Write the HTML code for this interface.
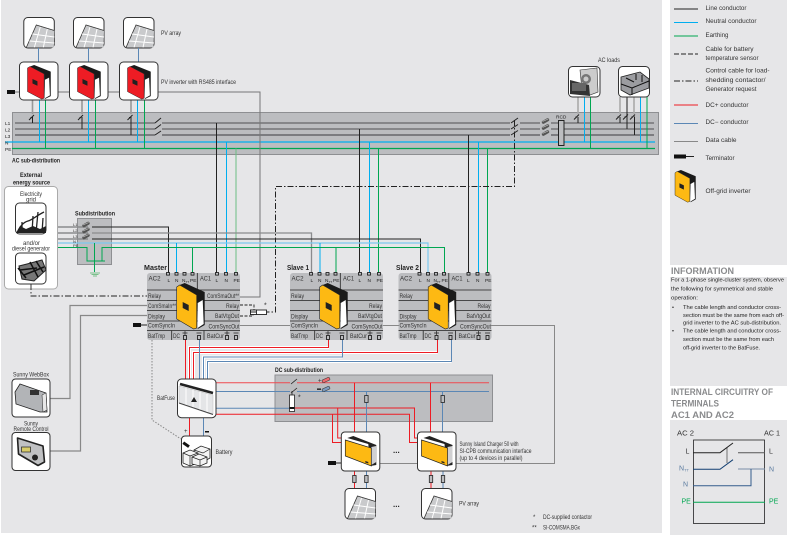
<!DOCTYPE html>
<html><head><meta charset="utf-8"><style>
html,body{margin:0;padding:0;background:#fff}
svg{display:block;font-family:"Liberation Sans",sans-serif;font-size:6px}
text{fill:#333}
.b{font-weight:bold;fill:#222}
.s{font-size:5.6px;fill:#222}
.t{font-size:4.8px;fill:#222}
.h{font-weight:bold;font-size:9px;fill:#8a8b8d}
.w{stroke:#fff;stroke-width:3;fill:none}
.bx{fill:#fff;stroke:#333;stroke-width:1}
</style></head><body>
<svg width="792" height="535" viewBox="0 0 792 535" xmlns="http://www.w3.org/2000/svg">
<defs>
<g id="panel">
<rect class="bx" x=".5" y=".5" width="30.5" height="30.5" rx="4"/>
<polygon points="13,8 31,13.5 30.5,30.5 3,30.5" fill="#c9cacc"/>
<path d="M3,30.5 L13,8 L31,13.5" stroke="#333" stroke-width=".8" fill="none"/>
<path d="M9,17 L31,20 M6,24 L31,26 M17,10 L11,30.5 M24,12 L20,30.5" stroke="#fff" stroke-width="1" fill="none"/>
</g>
<g id="inv">
<polygon points="3,2 8,0 28,9 28,42 21,46 20,12" fill="#1a1a1a"/>
<polygon points="0,4 3,2 20,12 20,45 17,46 0,36" stroke="#222" stroke-width=".6"/>
<polygon points="21,20 26,17 27,41 21,45" fill="#fff"/>
<polygon points="6,19 12,22 12,28 6,25" fill="#222"/>
</g>
<g id="sw"><path d="M-2,3 L3,-2 M0,0 L0,1.5" stroke="#222" stroke-width="1" fill="none"/></g>
<g id="coup"><rect x="-4" y="-1.6" width="8" height="3.2" rx="1.5" transform="rotate(-30)" fill="#555"/><path d="M-3,0 L3,-1.5" stroke="#ccc" stroke-width=".6" transform="rotate(-10)"/></g>
<g id="block">
<rect x="0" y="0" width="93" height="67" rx="3" fill="#bcbdc0"/>
<path d="M0,17 H93 M0,27.5 H93 M0,37.5 H93 M0,48 H93 M0,57.5 H93 M50.3,0 V17 M24.7,57.5 V67 M57,57.5 V67" stroke="#222" stroke-width=".8" fill="none"/>
<g fill="#bcbdc0" stroke="#111" stroke-width=".8">
<rect x="19.5" y="-.5" width="3" height="2.6"/><rect x="28" y="-.5" width="3" height="2.6"/><rect x="36" y="-.5" width="3" height="2.6"/><rect x="44" y="-.5" width="3" height="2.6"/>
<rect x="68.5" y="-.5" width="3" height="2.6"/><rect x="77.5" y="-.5" width="3" height="2.6"/><rect x="87.5" y="-.5" width="3" height="2.6"/>
<rect x="36.5" y="62.5" width="3" height="4"/><rect x="50.5" y="62.5" width="3" height="4"/><rect x="78.5" y="62.5" width="3" height="4"/><rect x="87.5" y="62.5" width="3" height="4"/>
</g>
<path d="M35.5,60 H40.5 M49.5,60 H54.5 M77.5,60 H82.5 M86.5,60 H91.5 M38,58 V62 M80,58 V62" stroke="#222" stroke-width=".7" fill="none"/>
<use href="#inv" x="29.7" y="10" fill="#fdb913"/>
</g>
<g id="charger">
<rect class="bx" x="0" y="0" width="38.5" height="39" rx="3.5"/>
<polygon points="6,6 12,4 35,13 35,33 29,34 27,12" fill="#222"/>
<polygon points="30,15 35,14 35,30 30,33" fill="#d0d0d2"/>
<polygon points="4,8 30,16 30,34 4,24" fill="#fdb913" stroke="#222" stroke-width=".7"/>
<polygon points="24,29 27,30 27,31.5 24,30.5" fill="#222"/>
</g>
</defs>

<rect width="792" height="535" fill="#fff"/>
<rect x="1" y="0" width="661" height="533" fill="#e6e6e8"/>
<rect x="670" y="0" width="117" height="265" fill="#e6e6e8"/>
<rect x="670" y="277" width="117" height="109" fill="#e6e6e8"/>
<rect x="670" y="420" width="117" height="115" fill="#e6e6e8"/>

<!-- AC sub-distribution -->
<rect x="12.5" y="112.5" width="646" height="42" fill="#bcbdc0" stroke="#8e8f92"/>
<g stroke="#7e7f81" stroke-width="1.8" fill="none">
<path d="M15,123 H155 M162,123 H510 M520,123 H540 M551,123 H654"/>
<path d="M15,129 H155 M162,129 H510 M520,129 H540 M551,129 H654"/>
<path d="M15,135 H155 M162,135 H510 M520,135 H540 M551,135 H654" stroke="#55565a" stroke-width="1.2"/>
</g>
<path d="M5,142 H655" stroke="#00aeef" stroke-width="1.2"/>
<path d="M12,148.5 H655" stroke="#00a651" stroke-width="1.2"/>
<g><text class="t" x="5" y="125">L1</text><text class="t" x="5" y="131.5">L2</text><text class="t" x="5" y="138">L3</text><text class="t" x="5" y="144.5">N</text><text class="t" x="5" y="151">PE</text></g>
<text class="b" x="12" y="162.5" textLength="48" lengthAdjust="spacingAndGlyphs">AC sub-distribution</text>

<!-- PV top -->
<use href="#panel" x="23.3" y="17"/><use href="#panel" x="73" y="17"/><use href="#panel" x="123" y="17"/>
<g stroke="#5b87b5" stroke-width="1"><path d="M38.5,48 V62 M88.5,48 V62 M138.5,48 V62"/></g>
<path d="M15,92 H19 M58,92 H70 M108,92 H120 M158,92 H260 V297 H240" stroke="#777" stroke-width="1" fill="none"/>
<rect x="7" y="90" width="8" height="4" fill="#111"/>
<g stroke="#999" stroke-width="1.6"><path d="M32.5,100 V114 M82,100 V114 M131,100 V114"/></g>
<g stroke="#00aeef" stroke-width="1"><path d="M39.5,100 V142 M88.5,100 V142 M137.5,100 V142"/></g>
<g stroke="#00a651" stroke-width="1"><path d="M45.5,100 V148.5 M95.5,100 V148.5 M144.5,100 V148.5"/></g>
<g stroke="#222" stroke-width="1" fill="none"><path d="M32.5,117 V123 M82,117 V129 M131,117 V135"/></g>
<use href="#sw" x="31" y="117"/><use href="#sw" x="80" y="117"/><use href="#sw" x="129.5" y="117"/>
<path d="M155,123 L161,118 M155,129 L161,124.5 M155,135 L161,131" stroke="#222" stroke-width="1"/>
<g><rect class="bx" x="19.5" y="62" width="38.5" height="38" rx="4"/><rect class="bx" x="69.5" y="62" width="38.5" height="38" rx="4"/><rect class="bx" x="119.5" y="62" width="38.5" height="38" rx="4"/></g>
<use href="#inv" transform="translate(27.5,65) scale(.83,.74)" fill="#ed1c24"/>
<use href="#inv" transform="translate(77.5,65) scale(.83,.74)" fill="#ed1c24"/>
<use href="#inv" transform="translate(127.5,65) scale(.83,.74)" fill="#ed1c24"/>
<text x="161" y="35" textLength="20" lengthAdjust="spacingAndGlyphs">PV array</text>
<text x="161" y="84" textLength="75" lengthAdjust="spacingAndGlyphs">PV inverter with RS485 interface</text>

<!-- verticals from AC bar -->
<g fill="none" stroke-width="1">
<path d="M216.5,123 V273" stroke="#222"/><path d="M226.5,142 V273" stroke="#00aeef"/><path d="M236,148.5 V273" stroke="#6cbf84"/>
<path d="M359.5,129 V273" stroke="#222"/><path d="M369.5,142 V273" stroke="#00aeef"/><path d="M378.5,148.5 V273" stroke="#00a651"/>
<path d="M468.5,135 V273" stroke="#222"/><path d="M478.5,142 V273" stroke="#00aeef"/><path d="M487.5,148.5 V273" stroke="#00a651"/>
<path d="M514.5,120 V186.5 H275.5 V312 H266" stroke="#222" stroke-dasharray="6 2 1.5 2"/>
</g>
<path d="M511,123 L518,118 M511,129 L518,124.5 M511,135 L518,130.5" stroke="#222" stroke-width="1"/>
<use href="#coup" x="545.5" y="121"/><use href="#coup" x="545.5" y="127"/><use href="#coup" x="545.5" y="133"/>
<rect x="558.5" y="120.5" width="5.5" height="25" fill="#bcbdc0" stroke="#222" stroke-width="1"/>
<text class="t" x="556" y="118.5">RCD</text>

<!-- AC loads -->
<text x="598" y="62" textLength="22" lengthAdjust="spacingAndGlyphs">AC loads</text>
<g stroke="#aaa" stroke-width="1.6"><path d="M578,97 V114 M620,97 V114 M634,97 V114"/></g>
<g stroke="#222" stroke-width="1" fill="none"><path d="M578,117 V123 M620,117 V123 M627,97 V129 M634,117 H634.5 V135"/></g>
<path d="M584.5,97 V142 M640.5,97 V142" stroke="#00aeef"/>
<path d="M590.5,97 V148.5 M647,97 V148.5" stroke="#00a651"/>
<use href="#sw" x="576" y="116.5"/><use href="#sw" x="618" y="116.5"/><use href="#sw" x="625" y="116.5"/><use href="#sw" x="632" y="116.5"/>
<rect class="bx" x="568.5" y="66.5" width="31.5" height="30.5" rx="4"/>
<polygon points="580,70 597,68 598,92 590,95 582,90" fill="#ccc" stroke="#333" stroke-width=".6"/>
<circle cx="586" cy="79" r="5" fill="#777"/><circle cx="586" cy="79" r="2.5" fill="#ccc"/>
<polygon points="570,80 589,85 590,96 570,94" fill="#333"/><rect x="572" y="83" width="14" height="8" fill="#666"/>
<rect class="bx" x="618.5" y="66.5" width="31" height="30.5" rx="4"/>
<polygon points="621,77 640,72 649,79 649,88 630,95 621,90" fill="#9b9ca0" stroke="#222" stroke-width=".8"/>
<path d="M621,84 L632,88 L649,81 M632,88 V95 M626,78 L634,82 M636,74 V80 M642,75 V82" stroke="#111" stroke-width="1" fill="none"/>

<!-- Legend -->
<g stroke-width="1" fill="none">
<path d="M674,9 H698" stroke="#222"/><path d="M674,22.5 H698" stroke="#00aeef"/><path d="M674,36 H698" stroke="#00a651"/>
<path d="M674,54 H698" stroke="#222" stroke-dasharray="5 2"/><path d="M674,81 H698" stroke="#222" stroke-dasharray="6 2 1.5 2"/>
<path d="M674,105 H698" stroke="#ed1c24"/><path d="M674,123.5 H698" stroke="#5b87b5"/><path d="M674,141.5 H698" stroke="#888"/>
<path d="M686,156.5 H694" stroke="#222"/></g>
<rect x="674" y="154.5" width="12" height="4" fill="#111"/>
<use href="#inv" transform="translate(675,170) scale(.74,.7)" fill="#fdb913"/>
<g>
<text x="705.5" y="10" textLength="41" lengthAdjust="spacingAndGlyphs">Line conductor</text>
<text x="705.5" y="23" textLength="51" lengthAdjust="spacingAndGlyphs">Neutral conductor</text>
<text x="705.5" y="37" textLength="23" lengthAdjust="spacingAndGlyphs">Earthing</text>
<text x="705.5" y="51" textLength="48" lengthAdjust="spacingAndGlyphs">Cable for battery</text>
<text x="705.5" y="60" textLength="53" lengthAdjust="spacingAndGlyphs">temperature sensor</text>
<text x="705.5" y="72.5" textLength="64" lengthAdjust="spacingAndGlyphs">Control cable for load-</text>
<text x="705.5" y="82" textLength="60" lengthAdjust="spacingAndGlyphs">shedding contactor/</text>
<text x="705.5" y="91" textLength="51" lengthAdjust="spacingAndGlyphs">Generator request</text>
<text x="705.5" y="107" textLength="43" lengthAdjust="spacingAndGlyphs">DC+ conductor</text>
<text x="705.5" y="124" textLength="43" lengthAdjust="spacingAndGlyphs">DC− conductor</text>
<text x="705.5" y="142" textLength="31" lengthAdjust="spacingAndGlyphs">Data cable</text>
<text x="705.5" y="160" textLength="29" lengthAdjust="spacingAndGlyphs">Terminator</text>
<text x="705.5" y="193" textLength="45" lengthAdjust="spacingAndGlyphs">Off-grid inverter</text>
</g>

<!-- External source -->
<text class="b" x="20" y="177" textLength="22" lengthAdjust="spacingAndGlyphs">External</text>
<text class="b" x="13" y="184.5" textLength="37" lengthAdjust="spacingAndGlyphs">energy source</text>
<rect x="4.5" y="186.5" width="53" height="102.5" rx="4" fill="#fff" stroke="#aaa"/>
<text x="20" y="196" textLength="22" lengthAdjust="spacingAndGlyphs">Electricity</text>
<text x="26" y="201.5" textLength="10" lengthAdjust="spacingAndGlyphs">grid</text>
<text x="23" y="245" textLength="17" lengthAdjust="spacingAndGlyphs">and/or</text>
<text x="12" y="250.5" textLength="38" lengthAdjust="spacingAndGlyphs">diesel generator</text>
<rect class="bx" x="15.5" y="203" width="30.5" height="31" rx="4"/>
<path d="M17,233 C20,226 24,222 28,221 S36,216 44,212 M22,233 V222 M32,233 L33,216 M36,233 L38,212 M42,233 L43,218" stroke="#222" stroke-width="1.3" fill="none"/>
<polygon points="16,233 20,226 26,229 33,226 40,229 46,226 46,233" fill="#222"/>
<rect class="bx" x="15.5" y="253" width="30.5" height="31" rx="4"/>
<polygon points="19,266 27,264 42,260 46,270 34,281 22,279" fill="#777" stroke="#222"/>
<path d="M18,268 L26,278 M30,262 L38,277 M36,261 L43,272 M20,270 L37,268 M24,275 L44,267" stroke="#111" stroke-width="1.5" fill="none"/>

<!-- Sub-distribution -->
<text class="b" x="75" y="215.5" textLength="40" lengthAdjust="spacingAndGlyphs">Subdistribution</text>
<rect x="77.5" y="218.5" width="34" height="46" fill="#bcbdc0" stroke="#8e8f92"/>
<g fill="none">
<path d="M58,227 H88 M58,233 H88 M58,239 H88" stroke="#8a8b8d" stroke-width="1.4"/>
<path d="M92,227 H168.5 V273" stroke="#222" stroke-width="1"/>
<path d="M92,233 H311.5 V273" stroke="#8a8b8d" stroke-width="1.3"/>
<path d="M92,239 H420.5 V273" stroke="#222" stroke-width="1"/>
<path d="M58,243 H428 V273" stroke="#7cc8ee" stroke-width="1.2"/>
<path d="M176.5,243 V273 M320,243 V273" stroke="#00aeef" stroke-width="1"/>
<path d="M58,247.5 H87 V261 H105 M102,261 V247.5 H444.5 V273" stroke="#00a651" stroke-width="1"/>
<path d="M192.5,247.5 V273 M336,247.5 V273" stroke="#00a651" stroke-width="1"/>
<path d="M94.5,243 V272" stroke="#00a651" stroke-width="1"/>
<path d="M90,273 H100 M91.5,274.5 H98.5 M93,276 H97" stroke="#7cc08c" stroke-width="1"/>
</g>
<use href="#coup" x="86" y="224.5"/><use href="#coup" x="86" y="230.5"/><use href="#coup" x="86" y="236.5"/>
<g style="font-size:4px"><text x="73" y="226" style="font-size:4px">L1</text><text x="73" y="232" style="font-size:4px">L2</text><text x="73" y="238" style="font-size:4px">L3</text><text x="73" y="243" style="font-size:4px">N</text><text x="73" y="247" style="font-size:4px">PE</text></g>

<!-- Blocks -->
<use href="#block" x="147" y="273"/><use href="#block" x="290" y="273"/><use href="#block" x="398.5" y="273"/>
<text class="b" x="144" y="270" font-size="7" textLength="23" lengthAdjust="spacingAndGlyphs">Master</text>
<text class="b" x="287" y="270" font-size="7" textLength="22" lengthAdjust="spacingAndGlyphs">Slave 1</text>
<text class="b" x="396" y="270" font-size="7" textLength="23" lengthAdjust="spacingAndGlyphs">Slave 2</text>
<g>
<!-- Master -->
<text x="148.5" y="280.5" textLength="12" lengthAdjust="spacingAndGlyphs">AC2</text><text x="200" y="280.5" textLength="11" lengthAdjust="spacingAndGlyphs">AC1</text>
<text class="t" x="167.5" y="282">L</text><text class="t" x="175" y="282">N</text><text class="t" x="182" y="282">N<tspan font-size="3" dy="1">TT</tspan></text><text class="t" x="190" y="282">PE</text>
<text class="t" x="215.5" y="282">L</text><text class="t" x="224.5" y="282">N</text><text class="t" x="233.5" y="282">PE</text>
<text x="148" y="298" textLength="13" lengthAdjust="spacingAndGlyphs">Relay</text>
<text x="148" y="308" textLength="28" lengthAdjust="spacingAndGlyphs">ComSmaIn**</text>
<text x="148" y="318.5" textLength="17" lengthAdjust="spacingAndGlyphs">Display</text>
<text x="148" y="327.5" textLength="27" lengthAdjust="spacingAndGlyphs">ComSyncIn</text>
<text x="148" y="338" textLength="17" lengthAdjust="spacingAndGlyphs">BatTmp</text>
<text x="173" y="338" textLength="7" lengthAdjust="spacingAndGlyphs">DC</text>
<text x="207" y="338" textLength="17" lengthAdjust="spacingAndGlyphs">BatCur</text>
<text x="207" y="298" textLength="32" lengthAdjust="spacingAndGlyphs">ComSmaOut**</text>
<text x="226" y="308" textLength="13" lengthAdjust="spacingAndGlyphs">Relay</text>
<text x="215" y="318" textLength="24" lengthAdjust="spacingAndGlyphs">BatVtgOut</text>
<text x="208.5" y="328.5" textLength="31" lengthAdjust="spacingAndGlyphs">ComSyncOut</text>
<!-- Slave 1 -->
<text x="291.5" y="280.5" textLength="12" lengthAdjust="spacingAndGlyphs">AC2</text><text x="343" y="280.5" textLength="11" lengthAdjust="spacingAndGlyphs">AC1</text>
<text class="t" x="310.5" y="282">L</text><text class="t" x="318" y="282">N</text><text class="t" x="325" y="282">N<tspan font-size="3" dy="1">TT</tspan></text><text class="t" x="333" y="282">PE</text>
<text class="t" x="358.5" y="282">L</text><text class="t" x="367.5" y="282">N</text><text class="t" x="376.5" y="282">PE</text>
<text x="291" y="298" textLength="13" lengthAdjust="spacingAndGlyphs">Relay</text>
<text x="291" y="318.5" textLength="17" lengthAdjust="spacingAndGlyphs">Display</text>
<text x="291" y="327.5" textLength="27" lengthAdjust="spacingAndGlyphs">ComSyncIn</text>
<text x="291" y="338" textLength="17" lengthAdjust="spacingAndGlyphs">BatTmp</text>
<text x="316" y="338" textLength="7" lengthAdjust="spacingAndGlyphs">DC</text>
<text x="350" y="338" textLength="17" lengthAdjust="spacingAndGlyphs">BatCur</text>
<text x="369" y="308" textLength="13" lengthAdjust="spacingAndGlyphs">Relay</text>
<text x="358" y="318" textLength="24" lengthAdjust="spacingAndGlyphs">BatVtgOut</text>
<text x="351.5" y="328.5" textLength="31" lengthAdjust="spacingAndGlyphs">ComSyncOut</text>
<!-- Slave 2 -->
<text x="400" y="280.5" textLength="12" lengthAdjust="spacingAndGlyphs">AC2</text><text x="451.5" y="280.5" textLength="11" lengthAdjust="spacingAndGlyphs">AC1</text>
<text class="t" x="419" y="282">L</text><text class="t" x="426.5" y="282">N</text><text class="t" x="433.5" y="282">N<tspan font-size="3" dy="1">TT</tspan></text><text class="t" x="441.5" y="282">PE</text>
<text class="t" x="467" y="282">L</text><text class="t" x="476" y="282">N</text><text class="t" x="485" y="282">PE</text>
<text x="399.5" y="298" textLength="13" lengthAdjust="spacingAndGlyphs">Relay</text>
<text x="399.5" y="318.5" textLength="17" lengthAdjust="spacingAndGlyphs">Display</text>
<text x="399.5" y="327.5" textLength="27" lengthAdjust="spacingAndGlyphs">ComSyncIn</text>
<text x="399.5" y="338" textLength="17" lengthAdjust="spacingAndGlyphs">BatTmp</text>
<text x="424.5" y="338" textLength="7" lengthAdjust="spacingAndGlyphs">DC</text>
<text x="458.5" y="338" textLength="17" lengthAdjust="spacingAndGlyphs">BatCur</text>
<text x="477.5" y="308" textLength="13" lengthAdjust="spacingAndGlyphs">Relay</text>
<text x="466.5" y="318" textLength="24" lengthAdjust="spacingAndGlyphs">BatVtgOut</text>
<text x="460" y="328.5" textLength="31" lengthAdjust="spacingAndGlyphs">ComSyncOut</text>
</g>

<!-- Relay/contactor on master -->
<path d="M31,284 V296 H147" stroke="#222" stroke-width=".9" fill="none" stroke-dasharray="6 2 1.5 2"/>
<path d="M240,305 H254 V310 M240,316 H253 V314" stroke="#222" stroke-width=".9" fill="none" stroke-dasharray="3 1.5"/>
<rect x="250.5" y="310" width="16" height="4.5" fill="#fff" stroke="#222" stroke-width=".9"/>
<rect x="250.5" y="310" width="6" height="4.5" fill="#fff" stroke="#222" stroke-width=".9"/>
<path d="M250.5,312 H256.5" stroke="#222"/>
<text x="264" y="307.5" font-size="7">*</text>

<!-- data lines -->
<g stroke="#888" stroke-width="1" fill="none">
<path d="M147,305.5 H70 V398.5 H50" stroke-width="1.2"/>
<path d="M147,315.5 H80.5 V451 H50" stroke-width="1.2"/>
<path d="M240,325.5 H290 M383,325.5 H399 M491,325.5 H554.5 V463.5 H456 M379.5,463.5 H417.5"/>
<path d="M152,340 V420 L181,439" stroke-dasharray="1.5 1.5"/>
</g>
<rect x="133" y="323" width="8" height="4" fill="#111"/><path d="M141,325 H147" stroke="#222"/>

<!-- DC sub box -->
<text class="b" x="275" y="372" textLength="48" lengthAdjust="spacingAndGlyphs">DC sub-distribution</text>
<rect x="275" y="375" width="217.5" height="46.5" fill="#bcbdc0" stroke="#8e8f92"/>

<!-- DC bus to BatFuse -->
<g fill="none">
<path class="w" d="M189.5,379 V347.5 H329 M193.5,379 V352.5 H437.5 M203.5,379 V357 H342.5 M207.5,379 V361.5 H451.5"/>
<path d="M185.5,340 V379 M189.5,379 V347.5 H328.5 V340 M193.5,379 V352.5 H437.5 V340" stroke="#ed1c24" stroke-width="1"/>
<path d="M199.5,340 V379 M203.5,379 V357 H342.5 V340 M207.5,379 V361.5 H451.5 V340" stroke="#5b87b5" stroke-width="1"/>
<path d="M216,382.7 H290 M297,382.7 H489" stroke="#ef4a50" stroke-width="1"/>
<path d="M216,391.5 H290 M297,391.5 H489" stroke="#5b87b5" stroke-width="1"/>
<path d="M216,408.3 H289 " stroke="#5b87b5" stroke-width="1"/>
<path d="M216,414.3 H409.5 V442.5 H417.5 M295,408 H414.5 V438 H417.5" stroke="#ed1c24" stroke-width="1"/>
<path d="M332.5,414.3 V442.5 H341.5 M337.7,408 V438 H341.5" stroke="#ed1c24" stroke-width="1"/>
<path d="M354.5,382.7 V432 M430.5,382.7 V432" stroke="#ed1c24" stroke-width="1"/>
<path d="M366.5,391.5 V432 M442.5,391.5 V432" stroke="#5b87b5" stroke-width="1"/>
<path d="M354.5,471 V488 M431,471 V488" stroke="#ed1c24" stroke-width="1"/>
<path d="M366.5,471 V488 M443,471 V488" stroke="#5b87b5" stroke-width="1"/>
<path d="M189.5,418 V436" stroke="#ed1c24" stroke-width="1"/>
<path d="M203.5,418 V436" stroke="#5b87b5" stroke-width="1"/>
<path d="M291,384 L297,379 M291,393 L297,388 M292,391 V395" stroke="#222" stroke-width=".8"/>
</g>
<rect x="289.5" y="395" width="5" height="16.5" fill="#fff" stroke="#222" stroke-width=".8"/>
<rect x="289.5" y="407" width="5" height="2" fill="#111"/>
<text x="298" y="399.5" font-size="7">*</text>
<g fill="#bcbdc0" stroke="#222" stroke-width=".8">
<rect x="364.7" y="395.5" width="3.4" height="7"/><rect x="441" y="395.5" width="3.4" height="7"/>
<rect x="352.7" y="475.5" width="3.4" height="7"/><rect x="364.7" y="475.5" width="3.4" height="7"/>
<rect x="429.3" y="475.5" width="3.4" height="7"/><rect x="441.3" y="475.5" width="3.4" height="7"/>
</g>
<g transform="translate(326,380)"><rect x="-4" y="-1.5" width="8" height="3" rx="1" transform="rotate(-25)" fill="#ed6a6f" stroke="#333" stroke-width=".5"/></g>
<g transform="translate(326,389)"><rect x="-4" y="-1.5" width="8" height="3" rx="1" transform="rotate(-25)" fill="#7d9bbd" stroke="#333" stroke-width=".5"/></g>
<text x="318" y="382.5" font-size="6">+</text><rect x="317" y="388.5" width="4" height="1.3" fill="#111"/>

<!-- BatFuse -->
<rect class="bx" x="177.5" y="379" width="38.5" height="38.7" rx="4"/>
<polygon points="179,386 213,395 213,414 179,403" fill="#e4e5e7" stroke="#bbb" stroke-width=".5"/>
<path d="M186,388 V405 M193,390 V408 M200,392 V410 M207,394 V412" stroke="#fff" stroke-width="1"/>
<path d="M180,384 L213,393" stroke="#222" stroke-width="2.6"/>
<path d="M179,403 L213,414.5" stroke="#444" stroke-width="1"/>
<polygon points="194,397 197,402 191,402" fill="#222"/>
<text x="157" y="400" textLength="18" lengthAdjust="spacingAndGlyphs">BatFuse</text>

<!-- Battery -->
<rect class="bx" x="181.5" y="436" width="30" height="31" rx="3.5"/>
<g fill="#f4f4f4" stroke="#222" stroke-width=".8">
<path d="M194,450 L201,446 L210,449 L210,458 L203,462 L194,459 Z"/>
<path d="M183,453 L190,450 L198,453 L198,463 L190,466 L183,463 Z"/>
<path d="M192,457 L199,454 L207,457 L207,463 L200,466 L192,464 Z"/>
</g>
<path d="M183,453 L190,456 L198,453 M190,456 V466 M192,457 L200,460 L207,457 M200,460 V466 M194,450 L203,453 L210,449" stroke="#222" stroke-width=".7" fill="none"/>
<rect x="183" y="443" width="7" height="3" transform="rotate(35 186 444)" fill="#111"/>
<text x="215.5" y="454" textLength="17" lengthAdjust="spacingAndGlyphs">Battery</text>
<text x="184" y="433" font-size="6">+</text><rect x="205" y="431" width="4" height="1.5" fill="#111"/>

<!-- WebBox / Remote -->
<text x="13" y="376.5" textLength="36" lengthAdjust="spacingAndGlyphs">Sunny WebBox</text>
<rect class="bx" x="12" y="379" width="38" height="38" rx="3.5"/>
<polygon points="15,392 20,384 46,393 47,412 40,412 16,404" fill="#b2b4b7" stroke="#222" stroke-width=".8"/>
<rect x="30" y="390" width="9" height="5" fill="#333"/>
<polygon points="42,395 46,393 47,410 43,412" fill="#e8e8e8" stroke="#222" stroke-width=".5"/>
<text x="24" y="425.5" textLength="14" lengthAdjust="spacingAndGlyphs">Sunny</text>
<text x="13.5" y="431" textLength="35" lengthAdjust="spacingAndGlyphs">Remote Control</text>
<rect class="bx" x="12" y="432.5" width="38" height="38" rx="3.5"/>
<polygon points="17.5,438 43,446 44.5,462 38,465.5 18.5,454" fill="#c0c1c3" stroke="#222" stroke-width="1.6" stroke-linejoin="round"/>
<rect x="21.5" y="447" width="9" height="5" fill="#d8cc6a" stroke="#222" stroke-width=".7"/>
<circle cx="35" cy="457.5" r="3" fill="#222"/>

<!-- Chargers -->
<use href="#charger" x="341.3" y="432"/><use href="#charger" x="417.5" y="432"/>
<rect x="328" y="461" width="8" height="4" fill="#111"/><path d="M336,463 H341" stroke="#222"/>
<text x="393" y="453" font-size="8" style="fill:#222;font-weight:bold">...</text>
<text x="393" y="507" font-size="8" style="fill:#222;font-weight:bold">...</text>
<use href="#panel" x="344.5" y="488"/><use href="#panel" x="421" y="488"/>
<text x="459.5" y="446" textLength="59" lengthAdjust="spacingAndGlyphs">Sunny Island Charger 50 with</text>
<text x="459.5" y="453" textLength="72" lengthAdjust="spacingAndGlyphs">SI-CPB communication interface</text>
<text x="459.5" y="460" textLength="63" lengthAdjust="spacingAndGlyphs">(up to 4 devices in parallel)</text>
<text x="459" y="505.5" textLength="20" lengthAdjust="spacingAndGlyphs">PV array</text>
<text x="533" y="519">*</text><text x="543" y="519" textLength="49" lengthAdjust="spacingAndGlyphs">DC-supplied contactor</text>
<text x="532" y="529.5">**</text><text x="543" y="529.5" textLength="37" lengthAdjust="spacingAndGlyphs">SI-COMSMA.BGx</text>

<!-- Info -->
<text class="h" x="671" y="274" textLength="63" lengthAdjust="spacingAndGlyphs">INFORMATION</text>
<g>
<text class="s" x="671" y="281.5" textLength="113" lengthAdjust="spacingAndGlyphs">For a 1-phase single-cluster system, observe</text>
<text class="s" x="671" y="290.5" textLength="102" lengthAdjust="spacingAndGlyphs">the following for symmetrical and stable</text>
<text class="s" x="671" y="299.5" textLength="27" lengthAdjust="spacingAndGlyphs">operation:</text>
<text class="s" x="672" y="309">•</text>
<text class="s" x="683" y="309" textLength="98" lengthAdjust="spacingAndGlyphs">The cable length and conductor cross-</text>
<text class="s" x="683" y="317" textLength="101" lengthAdjust="spacingAndGlyphs">section must be the same from each off-</text>
<text class="s" x="683" y="324.5" textLength="98" lengthAdjust="spacingAndGlyphs">grid inverter to the AC sub-distribution.</text>
<text class="s" x="672" y="332.5">•</text>
<text class="s" x="683" y="332.5" textLength="98" lengthAdjust="spacingAndGlyphs">The cable length and conductor cross-</text>
<text class="s" x="683" y="341" textLength="91" lengthAdjust="spacingAndGlyphs">section must be the same from each</text>
<text class="s" x="683" y="349.5" textLength="77" lengthAdjust="spacingAndGlyphs">off-grid inverter to the BatFuse.</text>
</g>
<text class="h" x="671" y="395" textLength="102" lengthAdjust="spacingAndGlyphs">INTERNAL CIRCUITRY OF</text>
<text class="h" x="671" y="406.5" textLength="48" lengthAdjust="spacingAndGlyphs">TERMINALS</text>
<text class="h" x="671" y="418" textLength="63" lengthAdjust="spacingAndGlyphs">AC1 AND AC2</text>

<!-- Circuit -->
<rect x="693.5" y="440" width="71" height="83.5" fill="none" stroke="#222" stroke-width=".8"/>
<g fill="none" stroke-width="1">
<path d="M693,452.7 H720 L733,443" stroke="#222"/>
<path d="M738,452.7 H765" stroke="#555"/>
<path d="M693,469.3 H720 L733,459.7" stroke="#123f72"/>
<path d="M738,469 H765" stroke="#7b8fa8"/>
<path d="M693,485.7 H751 V469" stroke="#345c8c"/>
<path d="M693,502.3 H765" stroke="#00a651"/>
<path d="M727,447 V463" stroke="#222" stroke-width=".6"/>
</g>
<g>
<text x="677" y="435.5" font-size="7" textLength="17" lengthAdjust="spacingAndGlyphs">AC 2</text>
<text x="764" y="435.5" font-size="7" textLength="16" lengthAdjust="spacingAndGlyphs">AC 1</text>
<text x="685.5" y="453.5" font-size="7">L</text><text x="769" y="453.5" font-size="7">L</text>
<text x="679" y="470.5" font-size="7" style="fill:#5b7ba0">N<tspan font-size="4" dy="1">TT</tspan></text>
<text x="769" y="471.5" font-size="7" style="fill:#5b7ba0">N</text>
<text x="683" y="486.5" font-size="7" style="fill:#5b7ba0">N</text>
<text x="681.5" y="503.5" font-size="7" style="fill:#00a651">PE</text>
<text x="769" y="503.5" font-size="7" style="fill:#00a651">PE</text>
</g>
</svg>
</body></html>
